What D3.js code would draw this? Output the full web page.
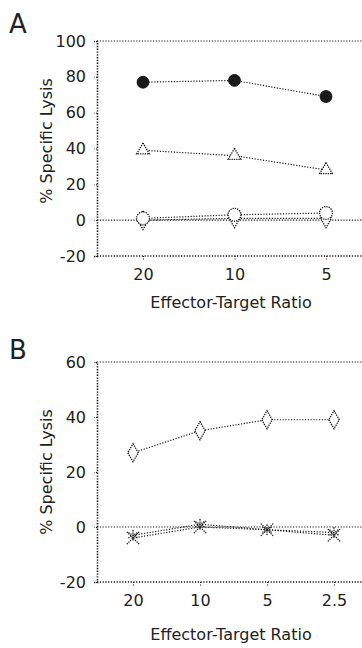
<!DOCTYPE html>
<html><head><meta charset="utf-8">
<script src="https://cdn.jsdelivr.net/npm/d3@7"></script>
<style>
html,body{margin:0;padding:0;background:#fff;}
svg{display:block;}
text{font-family:"DejaVu Sans",Verdana,sans-serif;fill:#222;}
</style></head>
<body>
<script>
// ---- Panel A data ----
const ratiosA = ["20", "10", "5"];
const filledCirclesA = [77, 78, 69];
const openTrianglesA = [39, 36, 28];
const openCirclesA = [1, 3, 4];
const openDiamondsA = [0, 1, 1];
const yTicksA = [100, 80, 60, 40, 20, 0, -20];

// ---- Panel B data ----
const ratiosB = ["20", "10", "5", "2.5"];
const openDiamondsB = [27, 35, 39, 39];
const crossesB = [-4, 0, -1, -3];
const asterisksB = [-3, 1, -1, -2];
const yTicksB = [60, 40, 20, 0, -20];

const W = 362, H = 648;
const svg = d3.select("body").append("svg").attr("width", W).attr("height", H);
const ink = "#1a1a1a";
const dots = "1.2,1.6";
const FONT = '"DejaVu Sans",Verdana,sans-serif';

function panel(cfg) {
  const g = svg.append("g");
  const x = d3.scalePoint().domain(cfg.cats).range([cfg.x0 + cfg.pad, cfg.x1 - cfg.pad]);
  const y = d3.scaleLinear().domain([cfg.ymin, cfg.ymax]).range([cfg.yb, cfg.yt]);

  const hline = (v, w) => g.append("line").attr("x1", cfg.x0).attr("x2", cfg.x1 + 20)
      .attr("y1", y(v)).attr("y2", y(v)).attr("stroke", ink).attr("stroke-width", w)
      .attr("stroke-dasharray", dots);
  hline(cfg.ymax, 1.1);
  hline(cfg.ymin, 1.3);
  hline(0, 1.1);

  const yAxis = d3.axisLeft(y).tickValues(cfg.yticks).tickSize(3).tickPadding(8)
    .tickFormat(d => String(d));
  const ya = g.append("g").attr("transform", `translate(${cfg.x0},0)`).call(yAxis);
  ya.select(".domain").attr("stroke", ink).attr("stroke-width", 1.6).attr("stroke-dasharray", "1.4,1.4");
  ya.selectAll(".tick line").attr("stroke", ink).attr("stroke-dasharray", "1,1.5");
  ya.selectAll(".tick text").attr("font-size", 16).style("font-family", FONT).attr("fill", "#222");

  const xAxis = d3.axisBottom(x).tickSize(4).tickPadding(9);
  const xa = g.append("g").attr("transform", `translate(0,${cfg.yb})`).call(xAxis);
  xa.select(".domain").remove();
  xa.selectAll(".tick line").attr("stroke", ink).attr("stroke-dasharray", "1,1.5");
  xa.selectAll(".tick text").attr("font-size", 16).style("font-family", FONT).attr("fill", "#222");

  g.append("text").attr("x", 9).attr("y", cfg.letterY).attr("font-size", 26).text(cfg.letter);
  g.append("text").attr("transform", `translate(${cfg.ytx},${cfg.ytitle}) rotate(-90)`)
    .attr("text-anchor", "middle").attr("font-size", 16).text("% Specific Lysis");
  g.append("text").attr("x", cfg.xtitleX).attr("y", cfg.xtitleY).attr("text-anchor", "middle")
    .attr("font-size", 16).text("Effector-Target Ratio");

  cfg.series.forEach(s => {
    const pts = s.values.map((v, i) => [x(cfg.cats[i]), y(v)]);
    g.append("path").attr("d", d3.line()(pts)).attr("fill", "none")
      .attr("stroke", ink).attr("stroke-width", 1.2).attr("stroke-dasharray", dots);
    const sym = d3.symbol().type(s.type).size(s.size);
    g.selectAll(null).data(pts).join("path")
      .attr("transform", d => `translate(${d[0]},${d[1]})`)
      .attr("d", sym())
      .attr("fill", s.filled ? ink : "#fff")
      .attr("stroke", ink)
      .attr("stroke-width", s.filled ? 1 : 1.3)
      .attr("stroke-dasharray", s.filled ? null : "1.3,1");
  });
}

panel({
  letter: "A", letterY: 33, cats: ratiosA, ymin: -20, ymax: 100, yticks: yTicksA,
  x0: 97, x1: 372, pad: 46, yt: 41, yb: 256,
  ytx: 52, ytitle: 141, xtitleX: 231, xtitleY: 308,
  series: [
    {values: filledCirclesA, type: d3.symbolCircle, size: 110, filled: true},
    {values: openTrianglesA, type: d3.symbolTriangle, size: 70, filled: false},
    {values: openDiamondsA, type: d3.symbolDiamond, size: 100, filled: false},
    {values: openCirclesA, type: d3.symbolCircle, size: 130, filled: false}
  ]
});

panel({
  letter: "B", letterY: 359, cats: ratiosB, ymin: -20, ymax: 60, yticks: yTicksB,
  x0: 97, x1: 370, pad: 36, yt: 362, yb: 582,
  ytx: 52, ytitle: 472, xtitleX: 231, xtitleY: 640,
  series: [
    {values: openDiamondsB, type: d3.symbolDiamond, size: 95, filled: false},
    {values: crossesB, type: d3.symbolTimes, size: 100, filled: false},
    {values: asterisksB, type: d3.symbolAsterisk, size: 80, filled: false}
  ]
});
</script>
</body></html>
